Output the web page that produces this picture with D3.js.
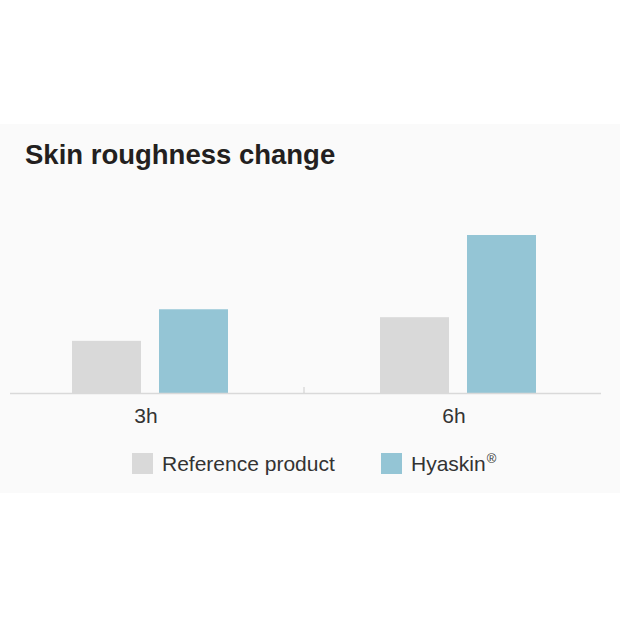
<!DOCTYPE html>
<html>
<head>
<meta charset="utf-8">
<script src="https://cdn.jsdelivr.net/npm/d3@7"></script>
<style>
  html, body { margin: 0; padding: 0; background: #ffffff; }
  svg { display: block; font-family: "Liberation Sans", Arial, sans-serif; }
</style>
</head>
<body>
<svg id="chart" width="620" height="620"></svg>
<script>
const title = "Skin roughness change";
const categories = ["3h", "6h"];
const seriesNames = ["Reference product", "Hyaskin"];
const referenceValues = [6.6, 9.6];
const hyaskinValues = [10.6, 20];
const colors = ["#d9d9d9", "#94c5d5"];

const svg = d3.select("#chart");

// light panel background
svg.append("rect").attr("x", 0).attr("y", 124).attr("width", 620).attr("height", 369).attr("fill", "#fafafa");

svg.append("text")
  .attr("x", 25).attr("y", 164)
  .attr("font-size", 27.5).attr("font-weight", "bold")
  .attr("fill", "#231f20")
  .text(title);

const baseY = 393;
const x = d3.scaleBand().domain(categories).range([-4, 612]).paddingInner(0).paddingOuter(0);
const xSub = d3.scaleBand().domain(seriesNames).range([0, 156]).paddingInner(0.207).paddingOuter(0);
const y = d3.scaleLinear().domain([0, 20]).range([baseY, 235]);

const data = categories.map((c, i) => ({
  cat: c,
  vals: [
    { s: seriesNames[0], v: referenceValues[i] },
    { s: seriesNames[1], v: hyaskinValues[i] }
  ]
}));

const groups = svg.selectAll("g.grp").data(data).join("g")
  .attr("class", "grp")
  .attr("transform", d => `translate(${x(d.cat) + x.bandwidth() / 2 - 78},0)`);

groups.selectAll("rect").data(d => d.vals).join("rect")
  .attr("x", d => xSub(d.s))
  .attr("width", xSub.bandwidth())
  .attr("y", d => y(d.v))
  .attr("height", d => baseY - y(d.v))
  .attr("fill", (d, i) => colors[i]);

// axis line
svg.append("line")
  .attr("x1", 10).attr("x2", 601)
  .attr("y1", baseY + 0.5).attr("y2", baseY + 0.5)
  .attr("stroke", "#d9d9d9").attr("stroke-width", 1.5);

// separator tick between categories
svg.append("line")
  .attr("x1", x(categories[1])).attr("x2", x(categories[1]))
  .attr("y1", baseY - 6).attr("y2", baseY)
  .attr("stroke", "#cccccc").attr("stroke-width", 1);

svg.selectAll("text.cat").data(categories).join("text")
  .attr("class", "cat")
  .attr("x", d => x(d) + x.bandwidth() / 2 - 4)
  .attr("y", 423)
  .attr("text-anchor", "middle")
  .attr("font-size", 21)
  .attr("fill", "#333333")
  .text(d => d);

// legend
const legendX = [132, 381];
const leg = svg.selectAll("g.leg").data(seriesNames).join("g")
  .attr("class", "leg")
  .attr("transform", (d, i) => `translate(${legendX[i]},453)`);
leg.append("rect").attr("width", 21).attr("height", 21).attr("fill", (d, i) => colors[i]);
const lt = leg.append("text")
  .attr("x", 30).attr("y", 18)
  .attr("font-size", 21)
  .attr("fill", "#333333")
  .text(d => d);
lt.filter((d, i) => i === 1).append("tspan")
  .attr("dx", 1).attr("dy", -8).attr("font-size", 13).text("®");
</script>
</body>
</html>
